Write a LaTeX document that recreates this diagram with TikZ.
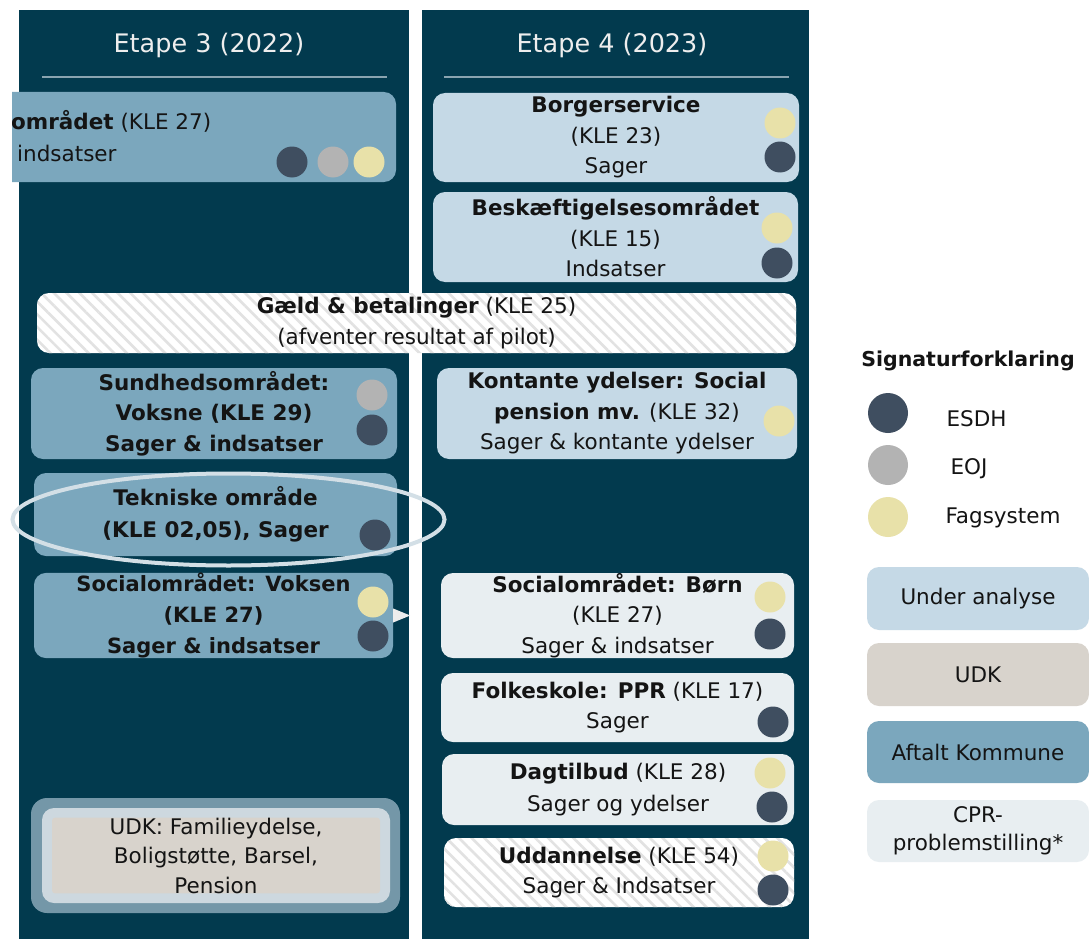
\documentclass[tikz,border=0pt]{standalone}
\usepackage{fontspec}
\setmainfont{DejaVu Sans}
\usetikzlibrary{patterns.meta}
\definecolor{panel}{HTML}{023A4E}
\definecolor{aftalt}{HTML}{7BA7BD}
\definecolor{analyse}{HTML}{C5D9E6}
\definecolor{udk}{HTML}{D8D3CC}
\definecolor{cpr}{HTML}{E8EEF1}
\definecolor{esdh}{HTML}{3F4E60}
\definecolor{eoj}{HTML}{B3B3B3}
\definecolor{fag}{HTML}{E8E1A9}
\definecolor{titletxt}{HTML}{EEEEEE}
\definecolor{rule}{HTML}{8AA4B0}
\definecolor{ring}{HTML}{D3DFE6}
\definecolor{udkborder}{HTML}{7497A8}
\definecolor{udkinner}{HTML}{CDD8DF}
\definecolor{hatch}{HTML}{E2E2E2}
\definecolor{ink}{HTML}{141414}
\tikzset{
  boxtxt/.style={font=\fontsize{21.5}{30.5}\selectfont, text=ink, align=center, inner sep=0pt},
  card/.style={rounded corners=12pt, minimum width=#1, inner sep=0pt},
  aftaltbox/.style={card=#1, fill=aftalt},
  analysebox/.style={card=#1, fill=analyse},
  cprbox/.style={card=#1, fill=cpr},
  hatchbox/.style={card=#1, preaction={fill=white}, pattern={Lines[angle=-45,distance=9pt,line width=2.6pt]}, pattern color=hatch},
  dot/.style={circle, minimum size=31pt, inner sep=0pt},
  bigdot/.style={circle, minimum size=40pt, inner sep=0pt},
  ttl/.style={font=\fontsize{25.5}{28}\selectfont, text=titletxt},
  legtxt/.style={font=\fontsize{21.5}{28}\selectfont, text=ink, align=center},
}
\begin{document}
\begin{tikzpicture}[x=1pt,y=-1pt]
\useasboundingbox (0,0) rectangle (1089,939);
\fill[white] (0,0) rectangle (1089,939);
% panels
\fill[panel] (19,10) rectangle (409,939);
\fill[panel] (422,10) rectangle (809,939);
\node[ttl] (t3) at (209,45) {Etape 3 (2022)};
\node[ttl] (t4) at (612,45) {Etape 4 (2023)};
\draw[rule, line width=1.3pt] (42,77) -- (387,77);
\draw[rule, line width=1.3pt] (444,77) -- (789,77);

% top-left cut box
\begin{scope}
\clip (12,0) rectangle (1089,939);
\node[aftaltbox=406pt, minimum height=90pt] (topl) at (193,137) {};
\node[boxtxt, anchor=base west] (topl1) at (11,130) {\textbf{området} (KLE 27)};
\node[boxtxt, anchor=base west] (topl2) at (17,161) {indsatser};
\end{scope}
\node[dot, fill=esdh] (c1) at (292,162) {};
\node[dot, fill=eoj] (c2) at (333,162) {};
\node[dot, fill=fag] (c3) at (369,162) {};

% right top boxes
\node[analysebox=366pt, minimum height=89pt, boxtxt] (borger) at (616,137.5) {\textbf{Borgerservice}\\(KLE 23)\\Sager};
\node[dot, fill=fag] at (780,123) {};
\node[dot, fill=esdh] at (780,157) {};
\node[analysebox=365pt, minimum height=90pt, boxtxt] (besk) at (615.5,237) {\textbf{Beskæftigelsesområdet}\\(KLE 15)\\Indsatser};
\node[dot, fill=fag] at (777,228) {};
\node[dot, fill=esdh] at (777,263) {};

% Gæld
\node[hatchbox=759pt, minimum height=60pt, boxtxt] (gaeld) at (416.5,323) {\textbf{Gæld \& betalinger} (KLE 25)\\(afventer resultat af pilot)};

% left column
\node[aftaltbox=366pt, minimum height=91pt, boxtxt, font=\bfseries\fontsize{21.5}{30.5}\selectfont] (sund) at (214,413.5) {Sundhedsområdet:\\Voksne (KLE 29)\\Sager \& indsatser};
\node[dot, fill=eoj] at (372,395) {};
\node[dot, fill=esdh] at (372,430) {};
\node[aftaltbox=363pt, minimum height=83pt, boxtxt, font=\bfseries\fontsize{21.5}{32}\selectfont] (tek) at (215.5,514.5) {Tekniske område\\(KLE 02,05), Sager};
\node[dot, fill=esdh] at (375,535) {};
\node[aftaltbox=359pt, minimum height=85pt, boxtxt, font=\bfseries\fontsize{21}{31}\selectfont] (vox) at (213.5,615.5) {Socialområdet: Voksen\\(KLE 27)\\Sager \& indsatser};
\node[dot, fill=fag] at (373,602) {};
\node[dot, fill=esdh] at (373,636) {};

% UDK box
\node[rounded corners=16pt, minimum width=369pt, minimum height=115pt, fill=udkborder] (udkout) at (215.5,855.5) {};
\node[rounded corners=12pt, minimum width=348pt, minimum height=95pt, fill=udkinner] (udkin) at (216,855.5) {};
\node[rounded corners=3pt, minimum width=328pt, minimum height=75pt, fill=udk, boxtxt, font=\fontsize{21.5}{29.5}\selectfont] (udkbox) at (216,855.5) {UDK: Familieydelse,\\Boligstøtte, Barsel,\\Pension};

% right column lower
\node[analysebox=360pt, minimum height=91pt, boxtxt] (kont) at (617,413.5) {\textbf{Kontante ydelser: Social}\\\textbf{pension mv.} (KLE 32)\\Sager \& kontante ydelser};
\node[dot, fill=fag] at (779,421) {};
\node[cprbox=353pt, minimum height=85pt, boxtxt] (born) at (617.5,615.5) {\textbf{Socialområdet: Børn}\\(KLE 27)\\Sager \& indsatser};
\node[dot, fill=fag] at (770,597) {};
\node[dot, fill=esdh] at (770,634) {};
\node[cprbox=353pt, minimum height=69pt, boxtxt] (folk) at (617.5,707.5) {\textbf{Folkeskole: PPR} (KLE 17)\\Sager};
\node[dot, fill=esdh] at (773,722) {};
\node[cprbox=352pt, minimum height=71pt, boxtxt, font=\fontsize{21.5}{32}\selectfont] (dag) at (618,789.5) {\textbf{Dagtilbud} (KLE 28)\\Sager og ydelser};
\node[dot, fill=fag] at (770,773) {};
\node[dot, fill=esdh] at (772,807) {};
\node[hatchbox=350pt, minimum height=69pt, boxtxt] (udd) at (619,872.5) {\textbf{Uddannelse} (KLE 54)\\Sager \& Indsatser};
\node[dot, fill=fag] at (773,856) {};
\node[dot, fill=esdh] at (773,890) {};

% ellipse ring around Tekniske
\draw[ring, line width=4pt] (228.5,519.5) ellipse [x radius=216, y radius=46];

% small arrow tip from Voksen toward Børn
\fill[white!93!black] ([yshift=-7pt]vox.east) -- ([yshift=7pt]vox.east) -- ([xshift=17pt]vox.east) -- cycle;

% legend
\node[font=\bfseries\fontsize{20.5}{24}\selectfont, text=ink] (sig) at (968,361) {Signaturforklaring};
\node[bigdot, fill=esdh] (lesdh) at (888,413) {};
\node[bigdot, fill=eoj] (leoj) at (888,465) {};
\node[bigdot, fill=fag] (lfag) at (888,517) {};
\node[legtxt, anchor=base west] (tesdh) at (943,426) {ESDH};
\node[legtxt, anchor=base west] (teoj) at (947,474) {EOJ};
\node[legtxt, anchor=base west] (tfag) at (942,523) {Fagsystem};
\node[analysebox=222pt, minimum height=63pt, legtxt] (lana) at (978,598.5) {Under analyse};
\node[card=222pt, fill=udk, minimum height=63pt, legtxt] (ludk) at (978,674.5) {UDK};
\node[aftaltbox=222pt, minimum height=62pt, legtxt] (laft) at (978,752) {Aftalt Kommune};
\node[cprbox=222pt, minimum height=62pt, legtxt] (lcpr) at (978,831) {CPR-\\problemstilling*};
\end{tikzpicture}
\end{document}
